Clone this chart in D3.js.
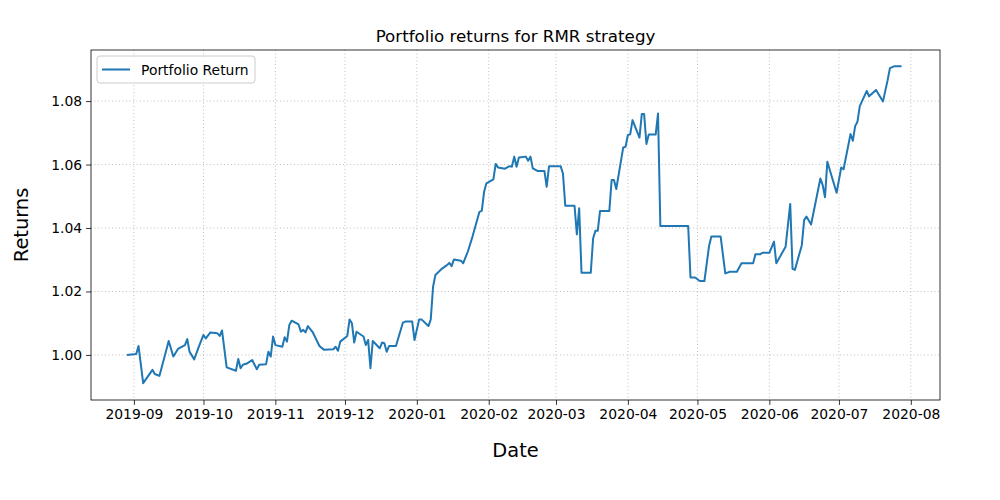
<!DOCTYPE html>
<html><head><meta charset="utf-8">
<script src="https://cdn.jsdelivr.net/npm/d3@7"></script>
<style>body{margin:0;background:#fff}svg{font-family:"DejaVu Sans",sans-serif}</style>
</head><body><svg id="c" width="1000" height="500"></svg>
<script>
const startDate = "2019-09-01";
const dayOffsets = [-3,1,2,4,8,9,11,15,17,19,22,23,24,26,28,30,31,33,36,37,38,40,44,45,46,47,49,51,53,54,57,58,59,60,61,64,65,66,67,68,71,72,73,74,75,77,80,82,86,87,88,89,92,93,94,95,96,99,100,101,102,103,106,107,108,109,110,113,116,117,120,121,123,124,127,128,129,130,133,135,136,137,138,141,142,144,146,149,150,151,152,155,156,157,160,162,163,164,165,166,169,170,171,172,174,177,178,179,184,185,186,190,191,192,193,197,198,199,200,201,205,206,207,208,211,212,213,214,215,218,219,220,221,222,225,226,227,239,240,242,244,246,248,249,253,255,257,260,262,267,268,270,271,274,276,277,281,283,284,285,288,289,290,292,296,297,298,299,303,305,306,309,310,311,312,313,316,317,320,323,325,326,328,331];
const returns = [1.000,1.0003,1.0028,0.9911,0.9953,0.994,0.9934,1.0044,0.9995,1.0019,1.0031,1.005,1.001,0.9986,1.0026,1.0063,1.0052,1.0071,1.0068,1.006,1.0077,0.9961,0.995,0.9987,0.9958,0.9969,0.9974,0.9984,0.9955,0.9969,0.9971,1.001,0.9995,1.0058,1.0031,1.0026,1.0056,1.0042,1.0094,1.0108,1.0096,1.0073,1.0079,1.0071,1.0091,1.0073,1.0028,1.0016,1.0018,1.0026,1.0013,1.0042,1.006,1.0112,1.010,1.0039,1.0073,1.0058,1.0031,1.0047,0.9958,1.0044,1.0021,1.0039,1.0037,1.001,1.0028,1.0028,1.0102,1.0105,1.0105,1.0047,1.0112,1.0112,1.0091,1.0112,1.0215,1.0252,1.0273,1.0283,1.029,1.028,1.0301,1.0297,1.0289,1.0326,1.0373,1.0451,1.0454,1.0514,1.0541,1.0553,1.0602,1.0591,1.0587,1.0595,1.0593,1.0625,1.0593,1.0622,1.0625,1.0612,1.0625,1.0588,1.058,1.058,1.053,1.0595,1.0595,1.0572,1.047,1.047,1.038,1.0462,1.0259,1.0259,1.0367,1.0391,1.0391,1.0454,1.0454,1.0551,1.0551,1.0523,1.0654,1.0656,1.0693,1.0695,1.074,1.0685,1.0759,1.0759,1.0665,1.0695,1.0695,1.0761,1.0406,1.0406,1.0244,1.0244,1.0233,1.0233,1.0343,1.0373,1.0373,1.0257,1.0262,1.0262,1.0289,1.0289,1.0317,1.0317,1.0322,1.0322,1.0357,1.0289,1.0341,1.0476,1.0271,1.0268,1.0346,1.0425,1.0436,1.0411,1.0556,1.0535,1.0497,1.0609,1.0511,1.0591,1.0585,1.0696,1.0675,1.0721,1.0735,1.0784,1.0832,1.0815,1.0835,1.0799,1.0866,1.0904,1.091,1.091];
const yTicks = [1.00,1.02,1.04,1.06,1.08];
const xTickDates = ["2019-09-01","2019-10-01","2019-11-01","2019-12-01","2020-01-01","2020-02-01","2020-03-01","2020-04-01","2020-05-01","2020-06-01","2020-07-01","2020-08-01"];

const parse = d3.utcParse("%Y-%m-%d");
const s0 = parse(startDate);
const data = dayOffsets.map((o,i)=>({d:d3.utcDay.offset(s0,o),v:returns[i]}));
const L=91,R=940,T=50,B=400;
const x = d3.scaleUtc().domain([d3.utcHour.offset(s0,-18.5*24), d3.utcHour.offset(s0,347.6*24)]).range([L,R]);
const y = d3.scaleLinear().domain([0.9858,1.0961]).range([B,T]);
const svg = d3.select("#c");
const xt = xTickDates.map(parse);
// grid
svg.append("g").selectAll("line").data(xt).join("line").attr("x1",d=>x(d)).attr("x2",d=>x(d)).attr("y1",T).attr("y2",B).attr("stroke","#b0b0b0").attr("stroke-width",0.8).attr("stroke-dasharray","1,2.5");
svg.append("g").selectAll("line").data(yTicks).join("line").attr("y1",d=>y(d)).attr("y2",d=>y(d)).attr("x1",L).attr("x2",R).attr("stroke","#b0b0b0").attr("stroke-width",0.8).attr("stroke-dasharray","1,2.5");
// line
svg.append("path").datum(data).attr("fill","none").attr("stroke","#1f77b4").attr("stroke-width",2).attr("stroke-linejoin","round")
  .attr("d",d3.line().x(d=>x(d.d)).y(d=>y(d.v)));
// axes
const xa = svg.append("g").attr("transform",`translate(0,${B})`).call(d3.axisBottom(x).tickValues(xt).tickFormat(d3.utcFormat("%Y-%m")).tickSize(4.9).tickPadding(4));
const ya = svg.append("g").attr("transform",`translate(${L},0)`).call(d3.axisLeft(y).tickValues(yTicks).tickFormat(d3.format(".2f")).tickSize(4.9).tickPadding(4));
[xa,ya].forEach(a=>{a.select(".domain").remove();a.selectAll("text").attr("font-size",13.9).attr("font-family","DejaVu Sans").attr("fill","#000");a.selectAll("line").attr("stroke","#000").attr("stroke-width",0.8);});
svg.append("rect").attr("x",L).attr("y",T).attr("width",R-L).attr("height",B-T).attr("fill","none").attr("stroke","#000").attr("stroke-width",0.8);
// labels
svg.append("text").attr("x",(L+R)/2).attr("y",42).attr("text-anchor","middle").attr("font-size",16.7).text("Portfolio returns for RMR strategy");
svg.append("text").attr("x",(L+R)/2).attr("y",457).attr("text-anchor","middle").attr("font-size",19.4).text("Date");
svg.append("text").attr("transform","translate(28,225) rotate(-90)").attr("text-anchor","middle").attr("font-size",19.4).text("Returns");
// legend
const lg = svg.append("g");
lg.append("rect").attr("x",97).attr("y",56).attr("width",158).attr("height",27).attr("rx",3).attr("fill","#fff").attr("fill-opacity",0.8).attr("stroke","#ccc");
lg.append("line").attr("x1",102).attr("x2",130).attr("y1",69.5).attr("y2",69.5).attr("stroke","#1f77b4").attr("stroke-width",2);
lg.append("text").attr("x",141).attr("y",74.5).attr("font-size",13.9).text("Portfolio Return");
</script></body></html>
